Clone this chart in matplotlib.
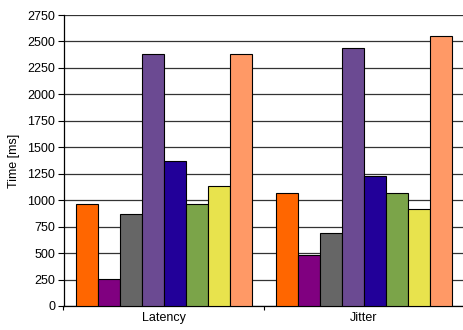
import matplotlib
matplotlib.use("Agg")
import matplotlib.pyplot as plt
import numpy as np

plt.rcParams['font.family'] = ['Liberation Sans', 'DejaVu Sans']

categories = ["Latency", "Jitter"]
series_values = [
    [965, 1068],
    [252, 482],
    [872, 693],
    [2381, 2437],
    [1373, 1228],
    [964, 1068],
    [1134, 917],
    [2381, 2549],
]
colors = ["#FF6600", "#800080", "#666666", "#6B4A92", "#220099",
          "#7BA449", "#E8E34D", "#FF9966"]
yticks = list(range(0, 2751, 250))

W, H = 463, 330
fig = plt.figure(figsize=(W / 100, H / 100), dpi=100)
ax = fig.add_axes([63.5 / W, 24 / H, (W - 63.5 + 1) / W, 291 / H])

n = len(series_values)
bw = 0.88 / n
x = np.arange(len(categories))
for i, vals in enumerate(series_values):
    ax.bar(x - 0.44 + bw * (i + 0.5), vals, width=bw, color=colors[i],
           edgecolor="black", linewidth=0.8, zorder=3)

ax.set_xlim(-0.5, len(categories) - 0.5)
ax.set_ylim(0, 2750)
ax.set_yticks(yticks)
ax.yaxis.grid(True, color="#333333", linewidth=0.9, zorder=0)
ax.set_axisbelow(True)

ax.set_xticks(x)
ax.set_xticklabels(categories, fontsize=9)
ax.set_xticks(np.arange(-0.5, len(categories)), minor=True)
ax.tick_params(axis="x", which="major", length=0, pad=4)
ax.tick_params(axis="x", which="minor", length=3, width=0.8, direction="out")
ax.tick_params(axis="y", length=4, width=0.8, direction="out", labelsize=9, pad=2)

for s in ["top", "right"]:
    ax.spines[s].set_visible(False)
ax.spines["left"].set_linewidth(0.9)
ax.spines["bottom"].set_linewidth(0.9)

ax.set_ylabel("Time [ms]", fontsize=9, labelpad=5)

fig.savefig("out.png", dpi=100)
